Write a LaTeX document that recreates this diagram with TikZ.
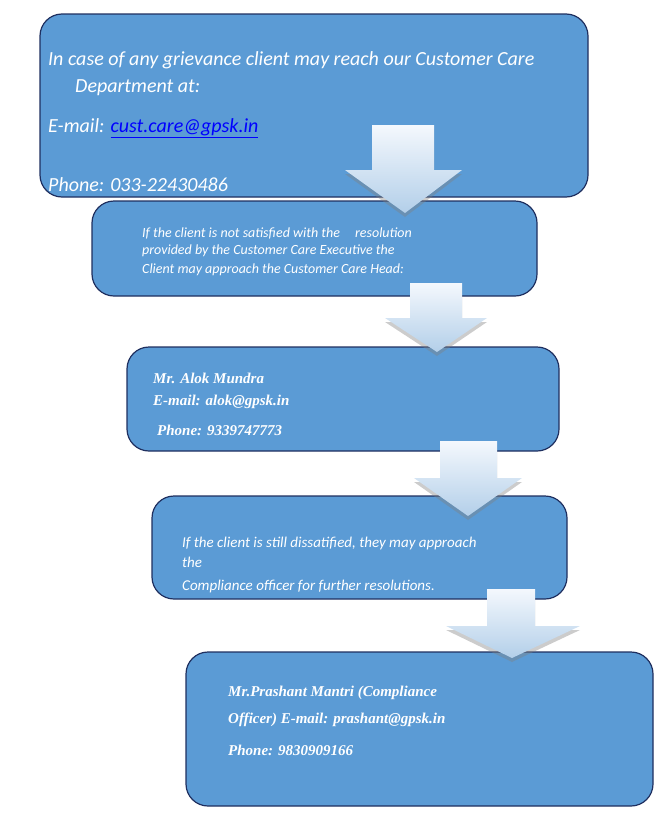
\documentclass[tikz,border=0pt]{standalone}
\usepackage{fontspec}
\setmainfont{Carlito}
\newfontfamily\tnr{Liberation Serif}
\usetikzlibrary{shadows}
\definecolor{boxblue}{HTML}{5B9BD5}
\definecolor{navy}{HTML}{1F2F5F}
\definecolor{arrtop}{HTML}{F4F8FD}
\definecolor{arrbot}{HTML}{B3CFE9}
\definecolor{linkblue}{HTML}{0000FF}
\begin{document}
\begin{tikzpicture}[x=1pt,y=-1pt,
  box/.style={fill=boxblue,draw=navy,line width=1.2pt,rounded corners=22pt},
  boxin/.style={draw=white,line width=0.6pt,rounded corners=20pt},
  arr/.style={top color=arrtop,bottom color=arrbot,draw=none,drop shadow={shadow xshift=0pt,shadow yshift=-4pt,opacity=0.4}},
  t/.style={anchor=west,inner sep=0,text=white,font=\itshape\fontsize{14}{17}\selectfont},
  tb/.style={anchor=west,inner sep=0,text=white,font=\tnr\bfseries\itshape\fontsize{15}{18}\selectfont}]
\useasboundingbox (0,0) rectangle (661,814);
\newcommand\bx[5]{\draw[box] (#1,#2) rectangle (#3,#4);\coordinate (#5) at (#1,#2);}
\bx{40}{14}{588}{197}{b1}
\bx{92}{201}{537}{296}{b2}
\bx{127}{347}{559}{451}{b3}
\bx{152}{496}{567}{599}{b4}
\bx{186}{652}{653}{806}{b5}
\newcommand\arrw[8]{\path[arr] (#1,#3) -- (#2,#3) -- (#2,#4) -- (#6,#4) -- (#7,#8) -- (#5,#4) -- (#1,#4) -- cycle;}
\arrw{372}{434}{125}{170}{345}{462}{405}{213}
\arrw{410}{462}{283}{318}{385}{487}{437}{352}
\arrw{440}{497}{441}{478}{414}{522}{468}{516}
\arrw{487}{535}{589}{626}{446}{580}{512}{658}
\node[t,font=\itshape\fontsize{20}{24}\selectfont] (l1) at (48,60) {In case of any grievance client may reach our Customer Care};
\node[t,font=\itshape\fontsize{20}{24}\selectfont] (l2) at (75,88) {Department at:};
\node[t,font=\itshape\fontsize{20}{24}\selectfont] (l3) at (48,128) {E-mail: \textcolor{linkblue}{\underline{cust.care@gpsk.in}}};
\node[t,font=\itshape\fontsize{20}{24}\selectfont] (l4) at (48,185) {Phone: 033-22430486};
\node[t] (m1) at (142,233) {If the client is not satisfied with the\hspace{12pt} resolution};
\node[t] (m2) at (142,251) {provided by the Customer Care Executive the};
\node[t] (m3) at (142,270) {Client may approach the Customer Care Head:};
\node[tb] (n1) at (153,378) {Mr. Alok Mundra};
\node[tb] (n2) at (153,402) {E-mail: alok@gpsk.in};
\node[tb] (n3) at (157,430) {Phone: 9339747773};
\node[t,font=\itshape\fontsize{15}{18}\selectfont] (c1) at (182,543) {If the client is still dissatified, they may approach};
\node[t,font=\itshape\fontsize{15}{18}\selectfont] (c2) at (182,562) {the};
\node[t,font=\itshape\fontsize{15}{18}\selectfont] (c3) at (182,586) {Compliance officer for further resolutions.};
\node[tb] (p1) at (228,693) {Mr.Prashant Mantri (Compliance};
\node[tb] (p2) at (228,720) {Officer) E-mail: prashant@gpsk.in};
\node[tb] (p3) at (228,750) {Phone: 9830909166};
\end{tikzpicture}
\end{document}
